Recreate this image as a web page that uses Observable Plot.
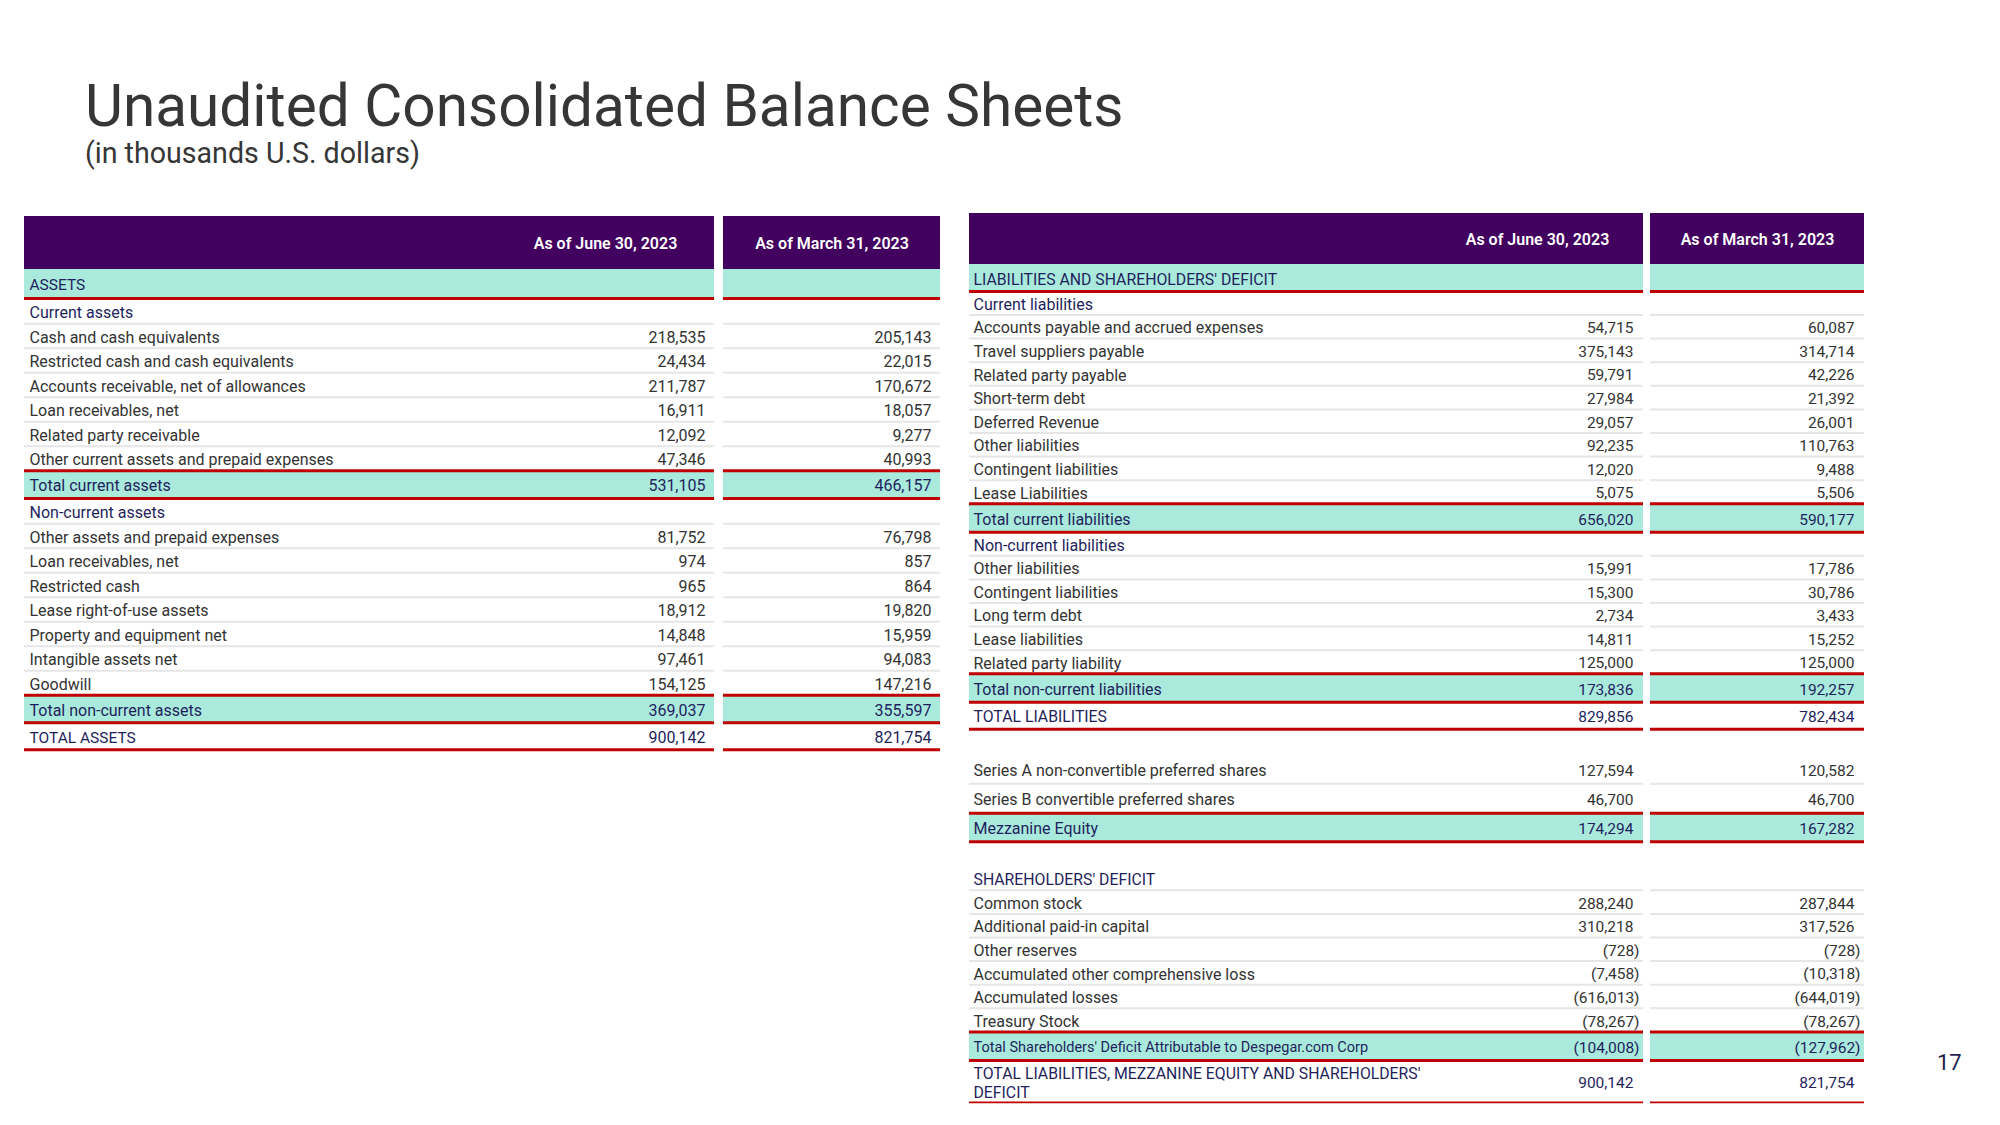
<!DOCTYPE html>
<html>
<head>
<meta charset="utf-8">
<script src="https://cdn.jsdelivr.net/npm/d3@7"></script>
<script src="https://cdn.jsdelivr.net/npm/@observablehq/plot@0.6"></script>
<style>
  body { margin: 0; background: #ffffff; font-family: Roboto, "Open Sans", sans-serif; }
  #page { position: relative; width: 2000px; height: 1125px; overflow: hidden; background: #fff; }
  #head { position: relative; height: 190px; }
  #title { position: absolute; left: 85px; top: 77px; font-size: 58.5px; line-height: 1; color: #363636; white-space: nowrap; }
  #subtitle { position: absolute; left: 85px; top: 139px; font-size: 28.6px; line-height: 1; color: #363636; white-space: nowrap; }
  #pagenum { position: absolute; left: 1937px; top: 1052px; font-size: 22px; line-height: 1; color: #1f1f4f; }
</style>
</head>
<body>
<div id="page">
  <div id="head"><div id="title"></div><div id="subtitle"></div></div>
  <div id="chart"></div>
  <div id="pagenum"></div>
</div>
<script>
// ---------------- DATA ----------------
const titleText = "Unaudited Consolidated Balance Sheets";
const subtitleText = "(in thousands U.S. dollars)";
const pageNumber = "17";
const periods = ["As of June 30, 2023", "As of March 31, 2023"];

const assetLabels = [
  "ASSETS", "Current assets",
  "Cash and cash equivalents", "Restricted cash and cash equivalents",
  "Accounts receivable, net of allowances", "Loan receivables, net",
  "Related party receivable", "Other current assets and prepaid expenses",
  "Total current assets", "Non-current assets",
  "Other assets and prepaid expenses", "Loan receivables, net", "Restricted cash",
  "Lease right-of-use assets", "Property and equipment net", "Intangible assets net",
  "Goodwill", "Total non-current assets", "TOTAL ASSETS"
];
const assetKinds = [
  "section", "sub", "item", "item", "item", "item", "item", "item",
  "total", "sub", "item", "item", "item", "item", "item", "item", "item",
  "total", "grand"
];
const assetJune = [
  null, null, 218535, 24434, 211787, 16911, 12092, 47346, 531105, null,
  81752, 974, 965, 18912, 14848, 97461, 154125, 369037, 900142
];
const assetMarch = [
  null, null, 205143, 22015, 170672, 18057, 9277, 40993, 466157, null,
  76798, 857, 864, 19820, 15959, 94083, 147216, 355597, 821754
];

const liabLabels = [
  "LIABILITIES AND SHAREHOLDERS' DEFICIT", "Current liabilities",
  "Accounts payable and accrued expenses", "Travel suppliers payable",
  "Related party payable", "Short-term debt", "Deferred Revenue",
  "Other liabilities", "Contingent liabilities", "Lease Liabilities",
  "Total current liabilities", "Non-current liabilities",
  "Other liabilities", "Contingent liabilities", "Long term debt",
  "Lease liabilities", "Related party liability",
  "Total non-current liabilities", "TOTAL LIABILITIES",
  "",
  "Series A non-convertible preferred shares", "Series B convertible preferred shares",
  "Mezzanine Equity",
  "",
  "SHAREHOLDERS' DEFICIT", "Common stock", "Additional paid-in capital",
  "Other reserves", "Accumulated other comprehensive loss", "Accumulated losses",
  "Treasury Stock", "Total Shareholders' Deficit Attributable to Despegar.com Corp",
  "TOTAL LIABILITIES, MEZZANINE EQUITY AND SHAREHOLDERS'\nDEFICIT"
];
const liabKinds = [
  "section", "sub", "item", "item", "item", "item", "item", "item", "item", "item",
  "total", "sub", "item", "item", "item", "item", "item", "total", "grand",
  "gap", "tall", "tall", "total", "gap",
  "sub", "item", "item", "item", "item", "item", "item", "total", "final"
];
const liabJune = [
  null, null, 54715, 375143, 59791, 27984, 29057, 92235, 12020, 5075,
  656020, null, 15991, 15300, 2734, 14811, 125000, 173836, 829856,
  null, 127594, 46700, 174294, null,
  null, 288240, 310218, -728, -7458, -616013, -78267, -104008, 900142
];
const liabMarch = [
  null, null, 60087, 314714, 42226, 21392, 26001, 110763, 9488, 5506,
  590177, null, 17786, 30786, 3433, 15252, 125000, 192257, 782434,
  null, 120582, 46700, 167282, null,
  null, 287844, 317526, -728, -10318, -644019, -78267, -127962, 821754
];

// ---------------- LAYOUT / STYLE ----------------
const PURPLE = "#42005f", TEAL = "#aaeadc", RED = "#c00000", GRAY = "#e6e6e6";
const NAVY = "#1f1f5c", INK = "#333333";
const TOP = 190, W = 2000, H = 1125;
const TEXT_DY = 1.5;

const leftGeo = {
  top: 216, headH: 53, x0: 24, june: [496, 714], march: [723, 940],
  pad: 5, valPad: 9, negShift: 6, labelSize: 16, upperSize: 15.5, longSize: 14.5, valueSize: 16,
  heights: {section: 29, sub: 25.3, item: 24.5, total: 27.6, grand: 27}
};
const rightGeo = {
  top: 213, headH: 51, x0: 969, june: [1431, 1643], march: [1650, 1864],
  pad: 4, valPad: 10, negShift: 6, labelSize: 16, upperSize: 15.8, longSize: 14.5, valueSize: 15.5,
  heights: {section: 27, sub: 23.5, item: 23.6, tall: 29.5, total: 28.5, grand: 27, gap: 25, final: 42}
};

const fmt = v => v < 0 ? "(" + d3.format(",")(-v) + ")" : d3.format(",")(v);

function build(labels, kinds, june, march, g) {
  const rows = [];
  let y = g.top + g.headH;
  labels.forEach((label, i) => {
    const h = g.heights[kinds[i]];
    rows.push({label, kind: kinds[i], next: kinds[i + 1], june: june[i], march: march[i], y0: y, y1: y + h});
    y += h;
  });
  const segs = [[g.x0, g.june[1]], [g.march[0], g.march[1]]];
  const heads = [], teal = [], red = [], gray = [], thin = [], labs = [], multi = [], vals = [];
  segs.forEach(s => heads.push({x1: s[0], x2: s[1], y1: g.top, y2: g.top + g.headH}));
  const headTexts = [
    {text: periods[0], x: (g.june[0] + g.june[1]) / 2, y: g.top + g.headH / 2 + 1},
    {text: periods[1], x: (g.march[0] + g.march[1]) / 2, y: g.top + g.headH / 2 + 1}
  ];
  rows.forEach(r => {
    if (r.kind === "gap") return;
    if (r.kind === "section" || r.kind === "total")
      segs.forEach(s => teal.push({x1: s[0], x2: s[1], y1: r.y0, y2: r.y1}));
    let target;
    if (r.kind === "section" || r.kind === "total" || r.kind === "grand") target = red;
    else if (r.kind === "final") target = thin;
    else if (r.kind === "sub") target = gray;
    else target = r.next === "total" ? red : gray;
    segs.forEach(s => target.push({x1: s[0], x2: s[1], y: r.y1}));
    const upper = r.label === r.label.toUpperCase();
    const size = r.label.length > 50 && !upper ? g.longSize : (upper ? g.upperSize : g.labelSize);
    const emph = r.kind !== "item" && r.kind !== "tall";
    const lab = {text: r.label, x: g.x0 + g.pad, y: (r.y0 + r.y1) / 2, size, color: emph ? NAVY : INK};
    (r.label.includes("\n") ? multi : labs).push(lab);
    [["june", g.june[1]], ["march", g.march[1]]].forEach(([key, right]) => {
      const v = r[key];
      if (v == null) return;
      vals.push({text: fmt(v), x: right - g.valPad + (v < 0 ? g.negShift : 0), y: (r.y0 + r.y1) / 2,
                 size: g.valueSize, color: emph ? NAVY : INK});
    });
  });
  return {heads, headTexts, teal, red, gray, thin, labs, multi, vals};
}

const L = build(assetLabels, assetKinds, assetJune, assetMarch, leftGeo);
const R = build(liabLabels, liabKinds, liabJune, liabMarch, rightGeo);
const all = k => L[k].concat(R[k]);

document.getElementById("title").textContent = titleText;
document.getElementById("subtitle").textContent = subtitleText;
document.getElementById("pagenum").textContent = pageNumber;

const chart = Plot.plot({
  width: W, height: H - TOP, margin: 0,
  x: {type: "linear", domain: [0, W], range: [0, W], axis: null},
  y: {type: "linear", domain: [TOP, H], range: [0, H - TOP], axis: null},
  color: {type: "identity"},
  style: {fontFamily: "Roboto, 'Open Sans', sans-serif", background: "#ffffff"},
  marks: [
    Plot.rect(all("heads"), {x1: "x1", x2: "x2", y1: "y1", y2: "y2", fill: PURPLE}),
    Plot.rect(all("teal"), {x1: "x1", x2: "x2", y1: "y1", y2: "y2", fill: TEAL}),
    Plot.ruleY(all("gray"), {y: "y", x1: "x1", x2: "x2", stroke: GRAY, strokeWidth: 2}),
    Plot.ruleY(all("red"), {y: "y", x1: "x1", x2: "x2", stroke: RED, strokeWidth: 3}),
    Plot.ruleY(all("thin"), {y: "y", x1: "x1", x2: "x2", stroke: RED, strokeWidth: 1.6}),
    Plot.text(all("headTexts"), {x: "x", y: "y", text: "text", fill: "#ffffff", fontSize: 16, fontWeight: 600, textAnchor: "middle"}),
    Plot.text(all("labs"), {x: "x", y: "y", text: "text", fill: "color", fontSize: "size", textAnchor: "start", dy: TEXT_DY}),
    Plot.text(all("multi"), {x: "x", y: "y", text: "text", fill: "color", fontSize: "size", textAnchor: "start", lineHeight: 1.2, dy: TEXT_DY}),
    Plot.text(all("vals"), {x: "x", y: "y", text: "text", fill: "color", fontSize: "size", textAnchor: "end", dy: TEXT_DY})
  ]
});
document.getElementById("chart").appendChild(chart);
</script>
</body>
</html>
